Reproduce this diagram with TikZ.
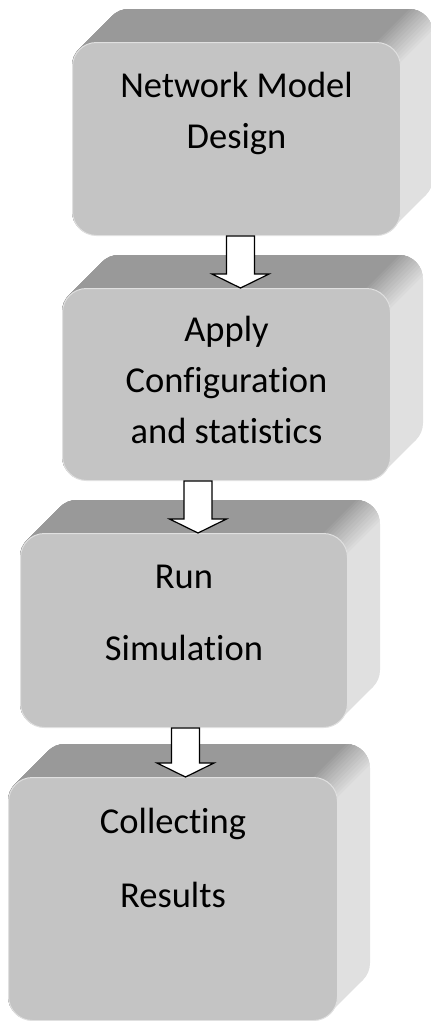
\documentclass[tikz,border=0pt]{standalone}
\usepackage{fontspec}
\setmainfont{Carlito}[Ligatures=NoCommon]
\usepackage{tikz}
\usetikzlibrary{calc}

\colorlet{topgray}{black!40}
\colorlet{sidegray}{black!12}
\colorlet{frontgray}{black!23}
\newcommand{\rr}{24}
\newcommand{\dd}{33}

% extruded outline of a box, front and back face plus the band between them
\newcommand{\hullfill}[4]{%
  \fill[rounded corners=\rr pt] (#1,#2) rectangle (#3,#4);
  \fill[rounded corners=\rr pt] ({#1+\dd},{#2-\dd}) rectangle ({#3+\dd},{#4-\dd});
  \fill ({#1+0.293*\rr},{#2+0.293*\rr}) -- ++(\dd,-\dd) -- ({#3-0.293*\rr+\dd},{#4-0.293*\rr-\dd}) -- ({#3-0.293*\rr},{#4-0.293*\rr}) -- cycle;
}

% 3d box: #1 name, #2..#5 front face corners
\newcommand{\solidbox}[5]{%
  \begin{scope}[fill=sidegray] \hullfill{#2}{#3}{#4}{#5} \end{scope}
  \foreach \i in {1,...,12} {
    \pgfmathsetmacro{\ang}{90-7.5*\i}
    \pgfmathsetmacro{\thr}{#4+#3+\rr*(sin(\ang)-cos(\ang))}
    \pgfmathsetmacro{\pct}{100-\ang/0.9}
    \begin{scope}
      \clip ({#2-5},{#3-\dd-5}) -- ({\thr-#3+\dd+5},{#3-\dd-5}) -- ({#2-5},{\thr-#2+5}) -- cycle;
      \begin{scope}[fill=topgray!\pct!sidegray] \hullfill{#2}{#3}{#4}{#5} \end{scope}
    \end{scope}
  }
  \node[face, minimum width={#4-#2}, minimum height={#5-#3}] (#1) at (#2,#3) {};
}

\begin{document}
\begin{tikzpicture}[
    x=1pt, y=-1pt,
    face/.style={rectangle, rounded corners=\rr pt, fill=frontgray, draw=black!12, line width=1pt, inner sep=0pt, anchor=north west},
    caption/.style={align=center, anchor=base, inner sep=0pt, font=\fontsize{36.5}{51}\selectfont},
    blockarrow/.style={draw=black, fill=white, line width=1.2pt,
      to path={let \p1=(\tikztostart), \p2=(\tikztotarget) in
        (\x1-14pt,\y1) -- (\x1-14pt,\y2+14pt) -- (\x1-28.5pt,\y2+14pt) -- (\x1,\y2)
        -- (\x1+28.5pt,\y2+14pt) -- (\x1+14pt,\y2+14pt) -- (\x1+14pt,\y1) -- cycle}}
]
\useasboundingbox (0,0) rectangle (431,1021);

\solidbox{net}{72}{42}{400}{235}
\solidbox{apply}{62}{288}{390}{480}
\solidbox{run}{20}{533}{347}{727}
\solidbox{collect}{8}{777}{337}{1020}

% base of a caption is the baseline of its last line
\node[caption] (net-text) at ([yshift=-106pt]net.north) {Network Model\\Design};
\node[caption] (apply-text) at ([yshift=-155pt]apply.north) {Apply\\Configuration\\and statistics};
\node[caption] (run-text) at ([yshift=-127pt]run.north) {Run\\[21pt]Simulation};
\node[caption] (collect-text) at ([yshift=-130pt]collect.north) {Collecting\\[23pt]Results};

\draw[blockarrow] ([xshift=4pt]net.south) to (apply.north);
\draw[blockarrow] ([xshift=-28.5pt]apply.south) to (run.north);
\draw[blockarrow] ([xshift=1.5pt]run.south) to (collect.north);
\end{tikzpicture}
\end{document}
